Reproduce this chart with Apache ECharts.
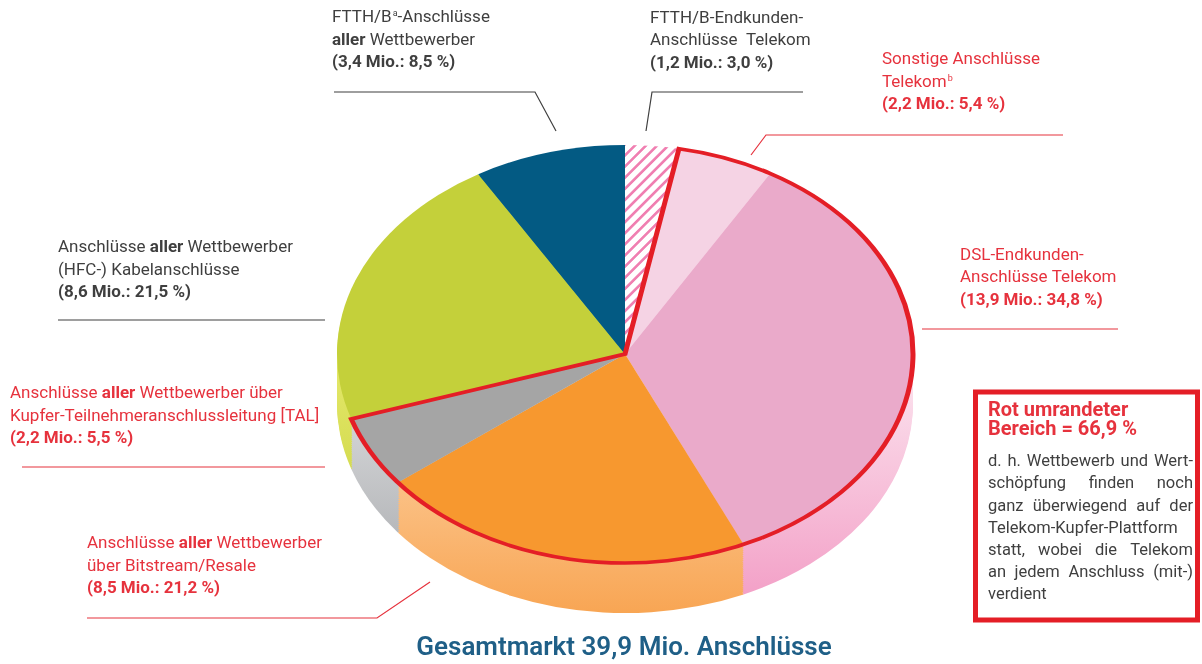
<!DOCTYPE html>
<html>
<head>
<meta charset="utf-8">
<title>Gesamtmarkt Anschlüsse</title>
<script src="https://cdn.jsdelivr.net/npm/echarts/dist/echarts.min.js"></script>
<style>
  html, body { margin: 0; padding: 0; background: #fff; }
  #wrap { position: relative; width: 1202px; height: 664px; overflow: hidden; }
  #pieBox { position: absolute; left: 0; top: 0; width: 1202px; transform-origin: 0 0; }
  #textBox { position: absolute; left: 0; top: 0; width: 1202px; height: 664px; }
</style>
</head>
<body>
<div id="wrap">
  <div id="pieBox"></div>
  <div id="textBox"></div>
</div>
<script>
// Anteile am Gesamtmarkt, im Uhrzeigersinn ab 12 Uhr
const segmentNames = [
  'FTTH/B-Endkunden-Anschlüsse Telekom',
  'Sonstige Anschlüsse Telekom',
  'DSL-Endkunden-Anschlüsse Telekom',
  'Anschlüsse aller Wettbewerber über Bitstream/Resale',
  'Anschlüsse aller Wettbewerber über TAL',
  'Anschlüsse aller Wettbewerber (HFC-) Kabelanschlüsse',
  'FTTH/B-Anschlüsse aller Wettbewerber'
];
const segmentShare = [3.0, 5.4, 34.8, 21.2, 5.5, 21.5, 8.5];
const segmentMio = [1.2, 2.2, 13.9, 8.5, 2.2, 8.6, 3.4];
const outlinedShare = 66.9;
const totalMio = 39.9;

// Farben (Deckfläche / Mantel oben / Mantel unten)
const topColors = ['#ffffff', '#f5d3e4', '#eaaaca', '#f7982f', '#a5a5a5', '#c4d03a', '#035a83'];
const sideTop = ['#fce6f0', '#fce6f0', '#fce6f0', '#fedcb6', '#e2e3e5', '#e4e86a', '#2a7aa0'];
const sideBottom = ['#f29bc4', '#f29bc4', '#f29bc4', '#f8a553', '#a2a4a7', '#c0cb30', '#035a83'];

const fmt = v => v.toFixed(1).replace('.', ',');
const totalShare = segmentShare.reduce((a, b) => a + b, 0);

// geometrie der gekippten torte (bildschirm-px)
const CX = 625, CY = 354, RX = 288, RY = 209, DEPTH = 50, LAYERS = 24;
const tilt = RY / RX;
const pieBox = document.getElementById('pieBox');
pieBox.style.height = Math.round(664 / tilt) + 'px';
pieBox.style.transform = 'scaleY(' + tilt + ')';

const pieChart = echarts.init(pieBox, null, { renderer: 'svg' });

function sideFill(i) {
  return {
    type: 'linear', x: 0, y: 360 / tilt, x2: 0, y2: 615 / tilt, global: true,
    colorStops: [{ offset: 0, color: sideTop[i] }, { offset: 1, color: sideBottom[i] }]
  };
}

const series = [];
// mantel: gestapelte tortenschichten von unten nach oben
for (let k = LAYERS; k >= 1; k--) {
  series.push({
    type: 'pie',
    silent: true,
    radius: RX,
    center: [CX, CY / tilt + k * DEPTH / tilt / LAYERS],
    label: { show: false },
    labelLine: { show: false },
    data: segmentShare.map((v, i) => ({
      name: segmentNames[i], value: v,
      itemStyle: { color: sideFill(i), borderWidth: 0 }
    }))
  });
}
// deckfläche
series.push({
  type: 'pie',
  silent: true,
  radius: RX,
  center: [CX, CY / tilt],
  label: { show: false },
  labelLine: { show: false },
  data: segmentShare.map((v, i) => ({
    name: segmentNames[i], value: v,
    itemStyle: i === 0 ? {
      color: '#ffffff', borderWidth: 0,
      decal: {
        symbol: 'rect', symbolSize: 1, color: '#f07fb1',
        dashArrayX: [1, 0], dashArrayY: [3, 6], rotation: -Math.PI * 0.3
      }
    } : { color: topColors[i], borderWidth: 0 }
  }))
});
// rote umrandung (Telekom-Kupfer-Plattform)
series.push({
  type: 'pie',
  silent: true,
  radius: RX,
  center: [CX, CY / tilt],
  label: { show: false },
  labelLine: { show: false },
  data: [
    { value: segmentShare[0], itemStyle: { color: 'transparent', borderWidth: 0 } },
    { value: outlinedShare, itemStyle: { color: 'transparent', borderColor: '#e41e26', borderWidth: 5, borderJoin: 'miter' } },
    { value: totalShare - segmentShare[0] - outlinedShare, itemStyle: { color: 'transparent', borderWidth: 0 } }
  ]
});

pieChart.setOption({ animation: false, series: series });

// texte und hinweislinien
const textChart = echarts.init(document.getElementById('textBox'));
const dark = '#3f3f3f', red = '#e6323d';

function richFor(color) {
  return {
    n: { fontFamily: 'Roboto', fontSize: 17, fill: color, lineHeight: 22.5 },
    b: { fontFamily: 'Roboto', fontSize: 17, fontWeight: 'bold', fill: color, lineHeight: 22.5 },
    sup: { fontFamily: 'Roboto', fontSize: 9, fill: color, verticalAlign: 'top', padding: [3, 0, 0, 1] }
  };
}
const valueText = i => '{b|(' + fmt(segmentMio[i]) + ' Mio.: ' + fmt(segmentShare[i]) + ' %)}';

const labels = [
  { x: 332, y: 6.5, color: dark, text: '{n|FTTH/B}{sup|a}{n|-Anschlüsse}\n{b|aller}{n| Wettbewerber}\n' + valueText(6) },
  { x: 650, y: 7, color: dark, text: '{n|FTTH/B-Endkunden-}\n{n|Anschlüsse  Telekom}\n' + valueText(0) },
  { x: 882, y: 48.75, color: red, text: '{n|Sonstige Anschlüsse}\n{n|Telekom}{sup|b}\n' + valueText(1) },
  { x: 960, y: 244.25, color: red, text: '{n|DSL-Endkunden-}\n{n|Anschlüsse Telekom}\n' + valueText(2) },
  { x: 58, y: 236.75, color: dark, text: '{n|Anschlüsse }{b|aller}{n| Wettbewerber}\n{n|(HFC-) Kabelanschlüsse}\n' + valueText(5) },
  { x: 10, y: 382.75, color: red, text: '{n|Anschlüsse }{b|aller}{n| Wettbewerber über}\n{n|Kupfer-Teilnehmeranschlussleitung [TAL]}\n' + valueText(4) },
  { x: 87, y: 532.75, color: red, text: '{n|Anschlüsse }{b|aller}{n| Wettbewerber}\n{n|über Bitstream/Resale}\n' + valueText(3) }
];

const leaders = [
  { color: dark, points: [[334, 92], [535, 92], [556, 131]] },
  { color: dark, points: [[803, 92], [652, 92], [646, 131]] },
  { color: red, points: [[1063, 135], [766, 135], [751, 155]] },
  { color: red, points: [[922, 329], [1118, 329]] },
  { color: dark, points: [[58, 320], [325, 320]] },
  { color: red, points: [[22, 467], [325, 467]] },
  { color: red, points: [[87, 618], [377, 618], [430, 582]] }
];

const graphic = [];
labels.forEach(l => {
  graphic.push({
    type: 'text', x: l.x, y: l.y, silent: true,
    style: { text: l.text, rich: richFor(l.color), fill: l.color, verticalAlign: 'top', align: 'left' }
  });
});
leaders.forEach(l => {
  graphic.push({
    type: 'polyline', silent: true,
    shape: { points: l.points },
    style: { stroke: l.color, lineWidth: 1.2, fill: null }
  });
});

// kasten rechts
graphic.push({
  type: 'rect', silent: true,
  shape: { x: 975.5, y: 392, width: 222, height: 228 },
  style: { stroke: '#e41e26', lineWidth: 5, fill: '#fff' }
});
graphic.push({
  type: 'text', x: 988, y: 401, silent: true,
  style: {
    text: 'Rot umrandeter\nBereich = ' + fmt(outlinedShare) + ' %',
    fontFamily: 'Roboto', fontSize: 20, fontWeight: 'bold', fill: '#e6323d',
    lineHeight: 19.5, verticalAlign: 'top'
  }
});

const noteLines = [
  'd. h. Wettbewerb und Wert-',
  'schöpfung finden noch',
  'ganz überwiegend auf der',
  'Telekom-Kupfer-Plattform',
  'statt, wobei die Telekom',
  'an jedem Anschluss (mit-)',
  'verdient'
];
const noteJustify = [true, true, true, false, true, true, false];
const noteFont = '16.5px Roboto';
const measure = document.createElement('canvas').getContext('2d');
measure.font = noteFont;
const noteLeft = 988, noteRight = 1193;
noteLines.forEach((line, j) => {
  const y = 462 + j * 22.2;
  const words = line.split(' ');
  if (!noteJustify[j] || words.length < 2) {
    graphic.push({
      type: 'text', x: noteLeft, y: y, silent: true,
      style: { text: line, font: noteFont, fill: dark, verticalAlign: 'middle' }
    });
    return;
  }
  const widths = words.map(w => measure.measureText(w).width);
  const used = widths.reduce((a, b) => a + b, 0);
  const gap = (noteRight - noteLeft - used) / (words.length - 1);
  let x = noteLeft;
  words.forEach((w, wi) => {
    graphic.push({
      type: 'text', x: x, y: y, silent: true,
      style: { text: w, font: noteFont, fill: dark, verticalAlign: 'middle' }
    });
    x += widths[wi] + gap;
  });
});

// unterschrift
graphic.push({
  type: 'text', x: 624, y: 648, silent: true,
  style: {
    text: 'Gesamtmarkt ' + fmt(totalMio) + ' Mio. Anschlüsse',
    fontFamily: 'Roboto', fontSize: 26, fontWeight: 600, fill: '#1f5f87',
    align: 'center', verticalAlign: 'middle'
  }
});

textChart.setOption({ animation: false, graphic: graphic });
</script>
</body>
</html>
